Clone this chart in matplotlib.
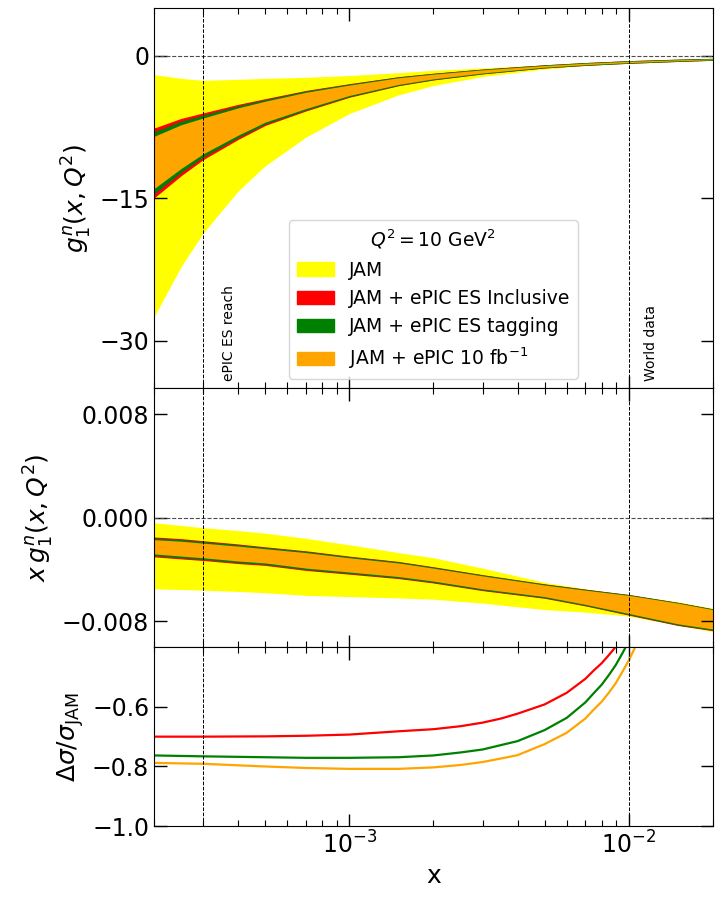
import numpy as np
import matplotlib
matplotlib.use("Agg")
import matplotlib.pyplot as plt
import matplotlib.patches as mpatches

# x grid (log) and the x*g1^n bands
x = np.array([2e-4, 2.5e-4, 3e-4, 4e-4, 5e-4, 7e-4, 1e-3, 1.5e-3, 2e-3,
              3e-3, 5e-3, 7e-3, 1e-2, 1.5e-2, 2e-2])

xg_jam_hi = np.array([-0.00040, -0.00060, -0.00078, -0.00100, -0.00120, -0.00160,
                      -0.00210, -0.00270, -0.00310, -0.00390, -0.00500, -0.00550,
                      -0.00600, -0.00650, -0.00700])
xg_jam_lo = np.array([-0.00550, -0.00555, -0.00560, -0.00570, -0.00580, -0.00600,
                      -0.00610, -0.00620, -0.00630, -0.00660, -0.00710, -0.00730,
                      -0.00760, -0.00830, -0.00880])

xg_incl_hi = np.array([-0.00154, -0.00167, -0.00183, -0.00208, -0.00230, -0.00261,
                       -0.00302, -0.00343, -0.00384, -0.00445, -0.00516, -0.00557,
                       -0.00598, -0.00659, -0.00709])
xg_incl_lo = np.array([-0.00298, -0.00314, -0.00326, -0.00350, -0.00364, -0.00403,
                       -0.00432, -0.00466, -0.00500, -0.00559, -0.00618, -0.00677,
                       -0.00748, -0.00828, -0.00868])

xg_tag_hi = np.array([-0.00162, -0.001745, -0.00190, -0.00214, -0.00235, -0.002655,
                      -0.00306, -0.003465, -0.00387, -0.004475, -0.00518, -0.005585,
                      -0.00599, -0.006595, -0.007095])
xg_tag_lo = np.array([-0.00289, -0.003055, -0.00318, -0.003425, -0.00357, -0.003965,
                      -0.00426, -0.004605, -0.00495, -0.005545, -0.00614, -0.006735,
                      -0.00744, -0.00824, -0.00864])

xg_epic_hi = np.array([-0.00170, -0.00182, -0.00197, -0.00220, -0.00240, -0.00270,
                       -0.00310, -0.00350, -0.00390, -0.00450, -0.00520, -0.00560,
                       -0.00600, -0.00660, -0.00710])
xg_epic_lo = np.array([-0.00280, -0.00297, -0.00310, -0.00335, -0.00350, -0.00390,
                       -0.00420, -0.00455, -0.00490, -0.00550, -0.00610, -0.00670,
                       -0.00740, -0.00820, -0.00860])

# relative uncertainty reduction (bottom panel)
xr = np.array([2e-4, 3e-4, 5e-4, 7e-4, 1e-3, 1.5e-3, 2e-3, 2.5e-3, 3e-3, 3.5e-3,
               4e-3, 5e-3, 6e-3, 7e-3, 7.5e-3, 8e-3, 8.5e-3, 9e-3, 9.5e-3,
               1e-2, 1.05e-2, 1.1e-2])
r_incl = np.array([-0.700, -0.700, -0.699, -0.697, -0.693, -0.682, -0.675, -0.665,
                   -0.653, -0.639, -0.623, -0.592, -0.553, -0.506, -0.478, -0.454,
                   -0.426, -0.398, -0.366, -0.333, -0.300, -0.263])
r_tag = np.array([-0.763, -0.766, -0.769, -0.771, -0.771, -0.769, -0.763, -0.753,
                  -0.743, -0.728, -0.715, -0.678, -0.637, -0.585, -0.554, -0.526,
                  -0.493, -0.459, -0.420, -0.381, -0.338, -0.291])
r_epic = np.array([-0.788, -0.791, -0.800, -0.805, -0.808, -0.808, -0.803, -0.795,
                   -0.785, -0.773, -0.762, -0.725, -0.687, -0.639, -0.609, -0.583,
                   -0.552, -0.520, -0.482, -0.445, -0.404, -0.358])

labels = ["JAM", "JAM + ePIC ES Inclusive", "JAM + ePIC ES tagging",
          r"JAM + ePIC 10 fb$^{-1}$"]
colors = ["yellow", "red", "green", "orange"]

fig, (ax1, ax2, ax3) = plt.subplots(3, 1, sharex=True, figsize=(7.2, 8.98), dpi=100,
                                    gridspec_kw=dict(height_ratios=[380, 259, 179], hspace=0))
fig.subplots_adjust(left=0.214, right=0.990, top=0.991, bottom=0.080)

bands = [(xg_jam_lo, xg_jam_hi), (xg_incl_lo, xg_incl_hi),
         (xg_tag_lo, xg_tag_hi), (xg_epic_lo, xg_epic_hi)]
edge_w = [0, 0.9, 0.9, 0]

#top: g1 = (x g1)/x, middle: x*g1
for (lo, hi), c, lw in zip(bands, colors, edge_w):
    ax1.fill_between(x, lo / x, hi / x, facecolor=c, edgecolor=c, lw=lw)
    ax2.fill_between(x, lo, hi, facecolor=c, edgecolor=c, lw=lw)

ax3.plot(xr, r_incl, color="red", lw=1.6)
ax3.plot(xr, r_tag, color="green", lw=1.6)
ax3.plot(xr, r_epic, color="orange", lw=1.6)

for ax in (ax1, ax2):
    ax.axhline(0, color="0.3", ls="--", lw=0.8)
for ax in (ax1, ax2, ax3):
    ax.axvline(3e-4, color="k", ls="--", lw=0.7)
    ax.axvline(1e-2, color="k", ls="--", lw=0.7)
    ax.set_xscale("log")
    ax.set_xlim(2e-4, 2e-2)
    ax.tick_params(which="both", direction="in", top=True, right=True, labelsize=17)
    ax.tick_params(which="major", length=9, width=1)
    ax.tick_params(which="minor", length=4.5, width=0.8)

ax1.set_ylim(-35, 5)
ax1.set_yticks([-30, -15, 0])
ax2.set_ylim(-0.01, 0.01)
ax2.set_yticks([-0.008, 0.0, 0.008])
ax3.set_ylim(-1.0, -0.4)
ax3.set_yticks([-1.0, -0.8, -0.6])

ax1.set_ylabel(r"$g_1^n(x,Q^2)$", fontsize=18)
ax2.set_ylabel(r"$x\,g_1^n(x,Q^2)$", fontsize=18)
ax3.set_ylabel(r"$\Delta\sigma/\sigma_{\rm JAM}$", fontsize=18)
ax3.set_xlabel("x", fontsize=18)

ax1.text(3.5e-4, -34.2, "ePIC ES reach", rotation=90, ha="left", va="bottom", fontsize=10)
ax1.text(1.13e-2, -34.2, "World data", rotation=90, ha="left", va="bottom", fontsize=10)

handles = [mpatches.Patch(color=c, label=l) for c, l in zip(colors, labels)]
ax1.legend(handles=handles, loc="lower center", fontsize=13.5,
           title=r"$Q^2 = 10$ GeV$^2$", title_fontsize=13.5)

fig.savefig("out.png", dpi=100)
